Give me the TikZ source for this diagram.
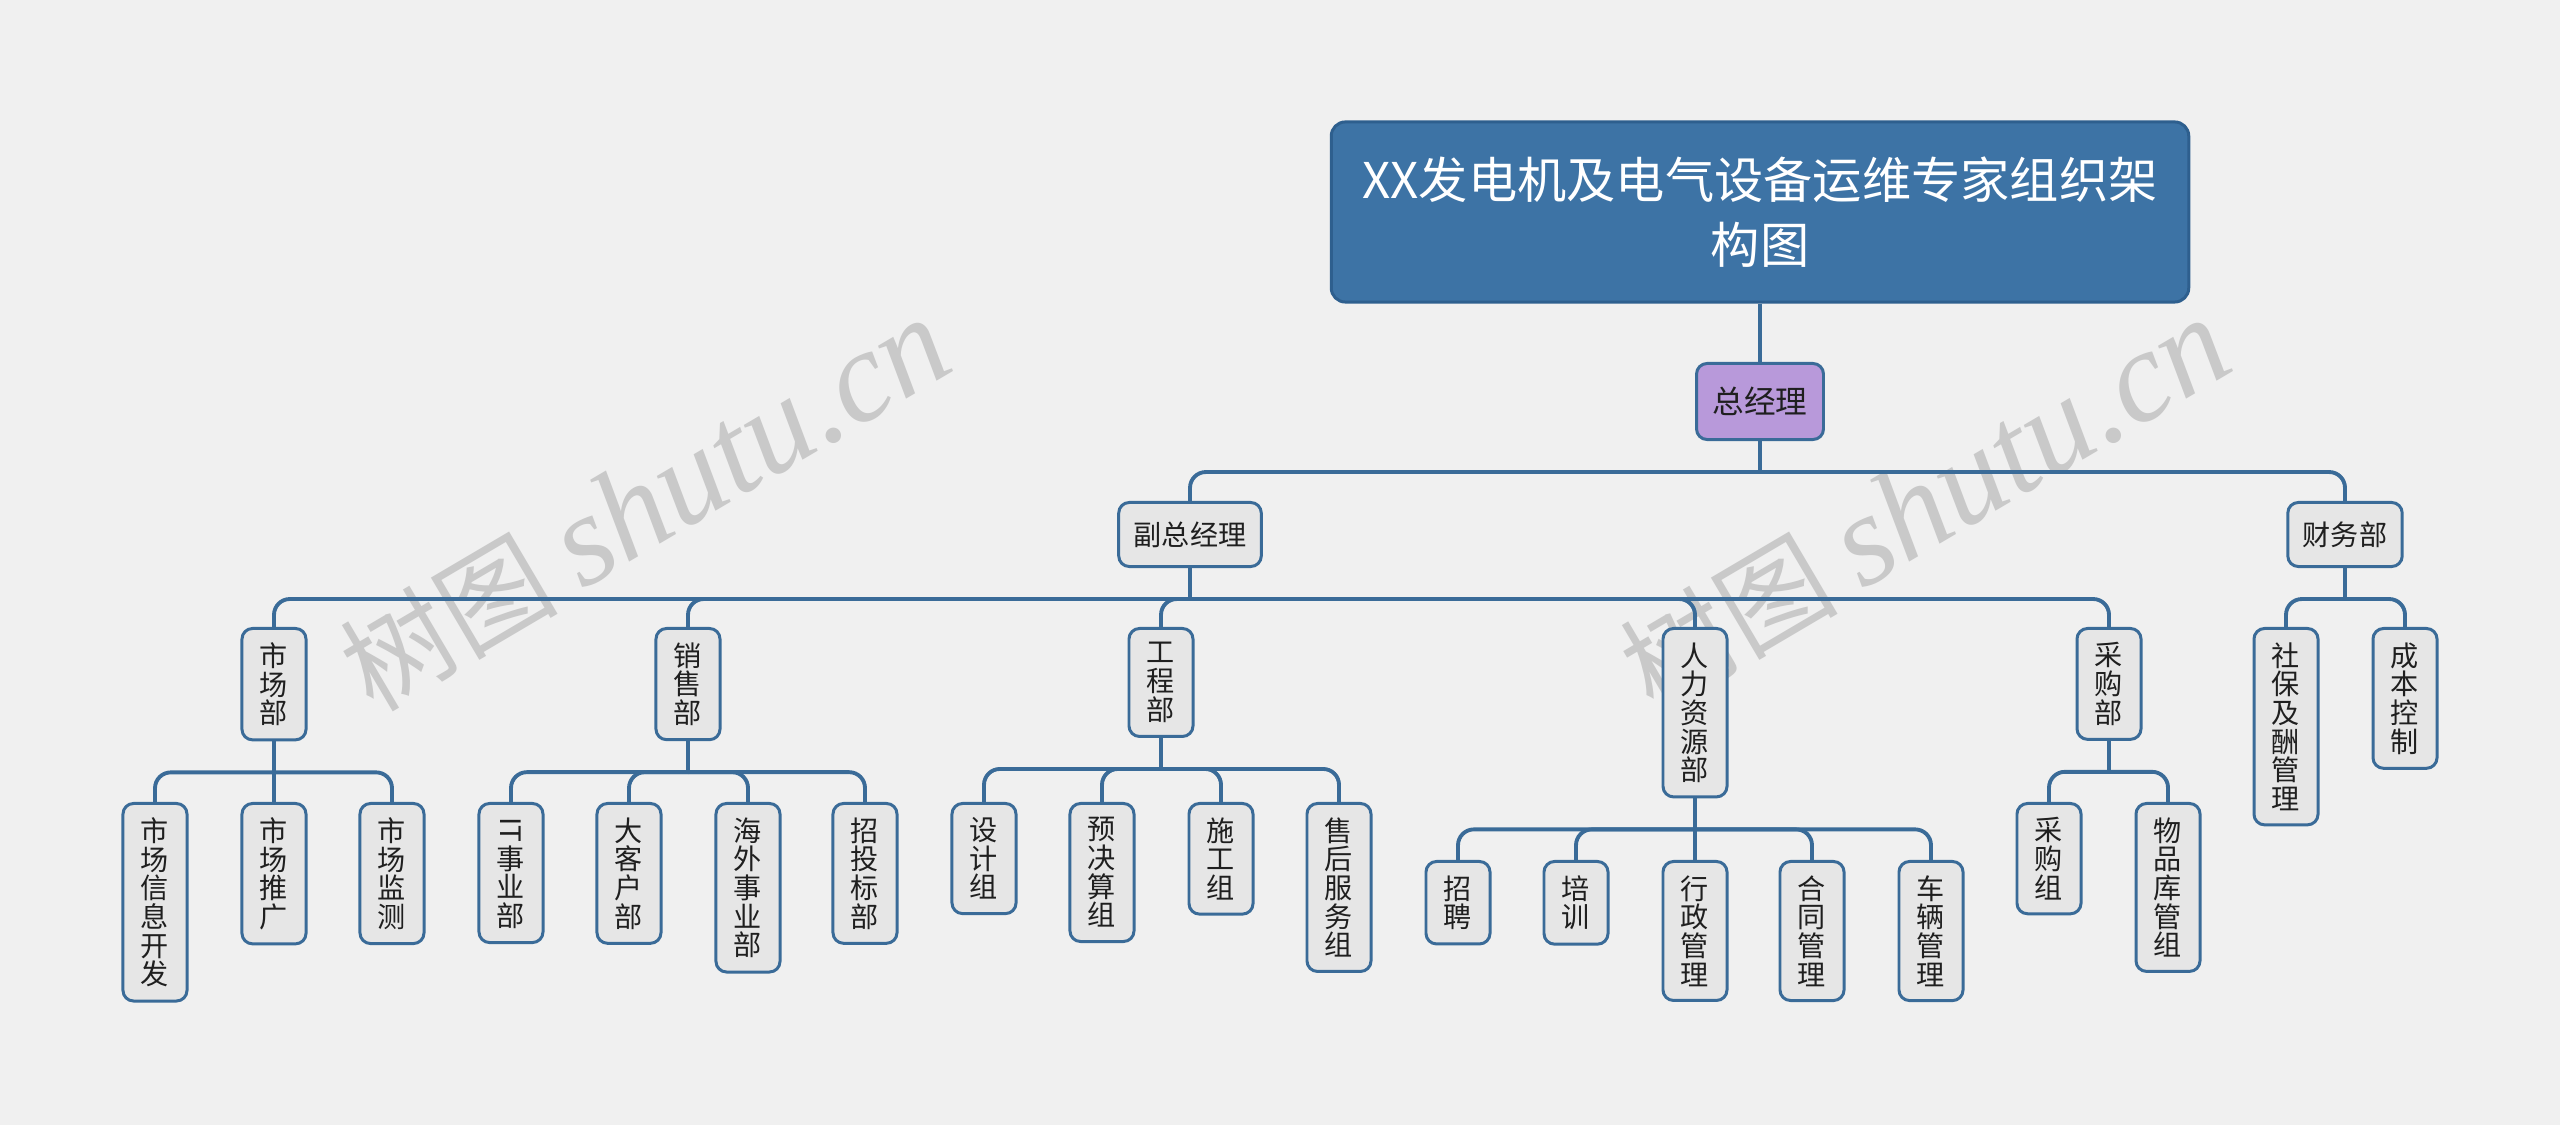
\documentclass[tikz,border=0pt]{standalone}
\usepackage{fontspec}
\setmainfont{Noto Sans CJK SC}
\newfontfamily\wmserif{Liberation Serif}
\usepackage{tikz}
\usetikzlibrary{arrows.meta,positioning}

\definecolor{bgc}{HTML}{F0F0F0}
\definecolor{linec}{HTML}{3A6B98}
\definecolor{boxc}{HTML}{E6E6E6}
\definecolor{titlec}{HTML}{3D73A5}
\definecolor{titleb}{HTML}{2E5F8E}
\definecolor{bossc}{HTML}{B899DA}
\definecolor{wmc}{HTML}{C9C9C9}

\tikzstyle{title} = [rectangle, rounded corners=4pt, fill=titlec, draw=titleb, line width=0.85pt, text=white, align=center, minimum width=8.57cm, minimum height=1.8cm, inner sep=0pt, font=\fontsize{14pt}{18.4pt}\selectfont]
\tikzstyle{hb} = [rectangle, rounded corners=3pt, fill=boxc, draw=linec, line width=0.85pt, text=black!88, align=center, inner xsep=0.15cm, inner ysep=0pt, minimum height=0.64cm, font=\fontsize{8pt}{8.15pt}\selectfont]
\tikzstyle{boss} = [hb, fill=bossc, minimum height=0.76cm, inner xsep=0.16cm, font=\fontsize{9pt}{9.2pt}\selectfont]
\tikzstyle{vb} = [rectangle, rounded corners=3pt, fill=boxc, draw=linec, line width=0.85pt, text=black!88, align=center, anchor=north, inner xsep=0pt, inner ysep=0.14cm, minimum width=0.64cm, font=\fontsize{8pt}{8.15pt}\selectfont]
\tikzstyle{wm} = [wmc, rotate=30.5, inner sep=0pt]
\tikzstyle{br} = [to path={(\tikztostart.south) -- ++(0,31) (\tikztostart.south) ++(0,31) [rounded corners=4.5pt] -| (\tikztotarget.north)}]
\tikzstyle{dn} = [to path={(\tikztostart.south) -- (\tikztotarget.north)}]

\begin{document}
\begin{tikzpicture}[x=0.01cm, y=-0.01cm]
		\fill[bgc] (0,0) rectangle (2560,1125);
		\useasboundingbox (0,0) rectangle (2560,1125);

		% watermark
		\node[wm] (wm1) at (645,505) {\fontsize{31pt}{31pt}\selectfont 树图 \wmserif\itshape\fontsize{37pt}{37pt}\selectfont shutu.cn};
		\node[wm] (wm2) at (1925,505) {\fontsize{31pt}{31pt}\selectfont 树图 \wmserif\itshape\fontsize{37pt}{37pt}\selectfont shutu.cn};

		\node[title] (top) at (1760,212) {XX发电机及电气设备运维专家组织架\\构图};
		\node[boss, anchor=north] (zjl) at (1760,362) {总经理};

		\begin{scope}[every node/.style={hb, anchor=north}]
			\node (fzjl) at (1190,501) {副总经理};
			\node (cwb) at (2345,501) {财务部};
		\end{scope}

		\begin{scope}[every node/.style={vb}]
			\node (scb) at (274,627) {市\\场\\部};
			\node (xsb) at (688,627) {销\\售\\部};
			\node (gcb) at (1161,627) {工\\程\\部};
			\node (rlb) at (1695,627) {人\\力\\资\\源\\部};
			\node (cgb) at (2109,627) {采\\购\\部};

			\node (sbcl) at (2286,627) {社\\保\\及\\酬\\管\\理};
			\node (cbkz) at (2405,627) {成\\本\\控\\制};

			\node (scxx) at (155,802) {市\\场\\信\\息\\开\\发};
			\node (sctg) at (274,802) {市\\场\\推\\广};
			\node (scjc) at (392,802) {市\\场\\监\\测};

			\node (itb) at (511,802) {\rotatebox[origin=c]{-90}{IT}\\事\\业\\部};
			\node (dkh) at (629,802) {大\\客\\户\\部};
			\node (hwb) at (748,802) {海\\外\\事\\业\\部};
			\node (ztb) at (865,802) {招\\投\\标\\部};

			\node (sjz) at (984,802) {设\\计\\组};
			\node (yjs) at (1102,802) {预\\决\\算\\组};
			\node (sgz) at (1221,802) {施\\工\\组};
			\node (shfw) at (1339,802) {售\\后\\服\\务\\组};

			\node (zp) at (1458,860) {招\\聘};
			\node (px) at (1576,860) {培\\训};
			\node (xzgl) at (1695,860) {行\\政\\管\\理};
			\node (htgl) at (1812,860) {合\\同\\管\\理};
			\node (clgl) at (1931,860) {车\\辆\\管\\理};

			\node (cgz) at (2049,802) {采\\购\\组};
			\node (wpk) at (2168,802) {物\\品\\库\\管\\组};
		\end{scope}

		\begin{scope}[draw=linec, line width=1.1pt]
			\path (top) edge[dn] (zjl);
			\path (zjl) edge[br] (fzjl);
			\path (zjl) edge[br] (cwb);

			\path (fzjl) edge[br] (scb);
			\path (fzjl) edge[br] (xsb);
			\path (fzjl) edge[br] (gcb);
			\path (fzjl) edge[br] (rlb);
			\path (fzjl) edge[br] (cgb);
			\path (cwb) edge[br] (sbcl);
			\path (cwb) edge[br] (cbkz);

			\path (scb) edge[br] (scxx);
			\path (scb) edge[dn] (sctg);
			\path (scb) edge[br] (scjc);

			\path (xsb) edge[br] (itb);
			\path (xsb) edge[br] (dkh);
			\path (xsb) edge[br] (hwb);
			\path (xsb) edge[br] (ztb);

			\path (gcb) edge[br] (sjz);
			\path (gcb) edge[br] (yjs);
			\path (gcb) edge[br] (sgz);
			\path (gcb) edge[br] (shfw);

			\path (rlb) edge[br] (zp);
			\path (rlb) edge[br] (px);
			\path (rlb) edge[dn] (xzgl);
			\path (rlb) edge[br] (htgl);
			\path (rlb) edge[br] (clgl);

			\path (cgb) edge[br] (cgz);
			\path (cgb) edge[br] (wpk);
		\end{scope}
	\end{tikzpicture}
\end{document}
